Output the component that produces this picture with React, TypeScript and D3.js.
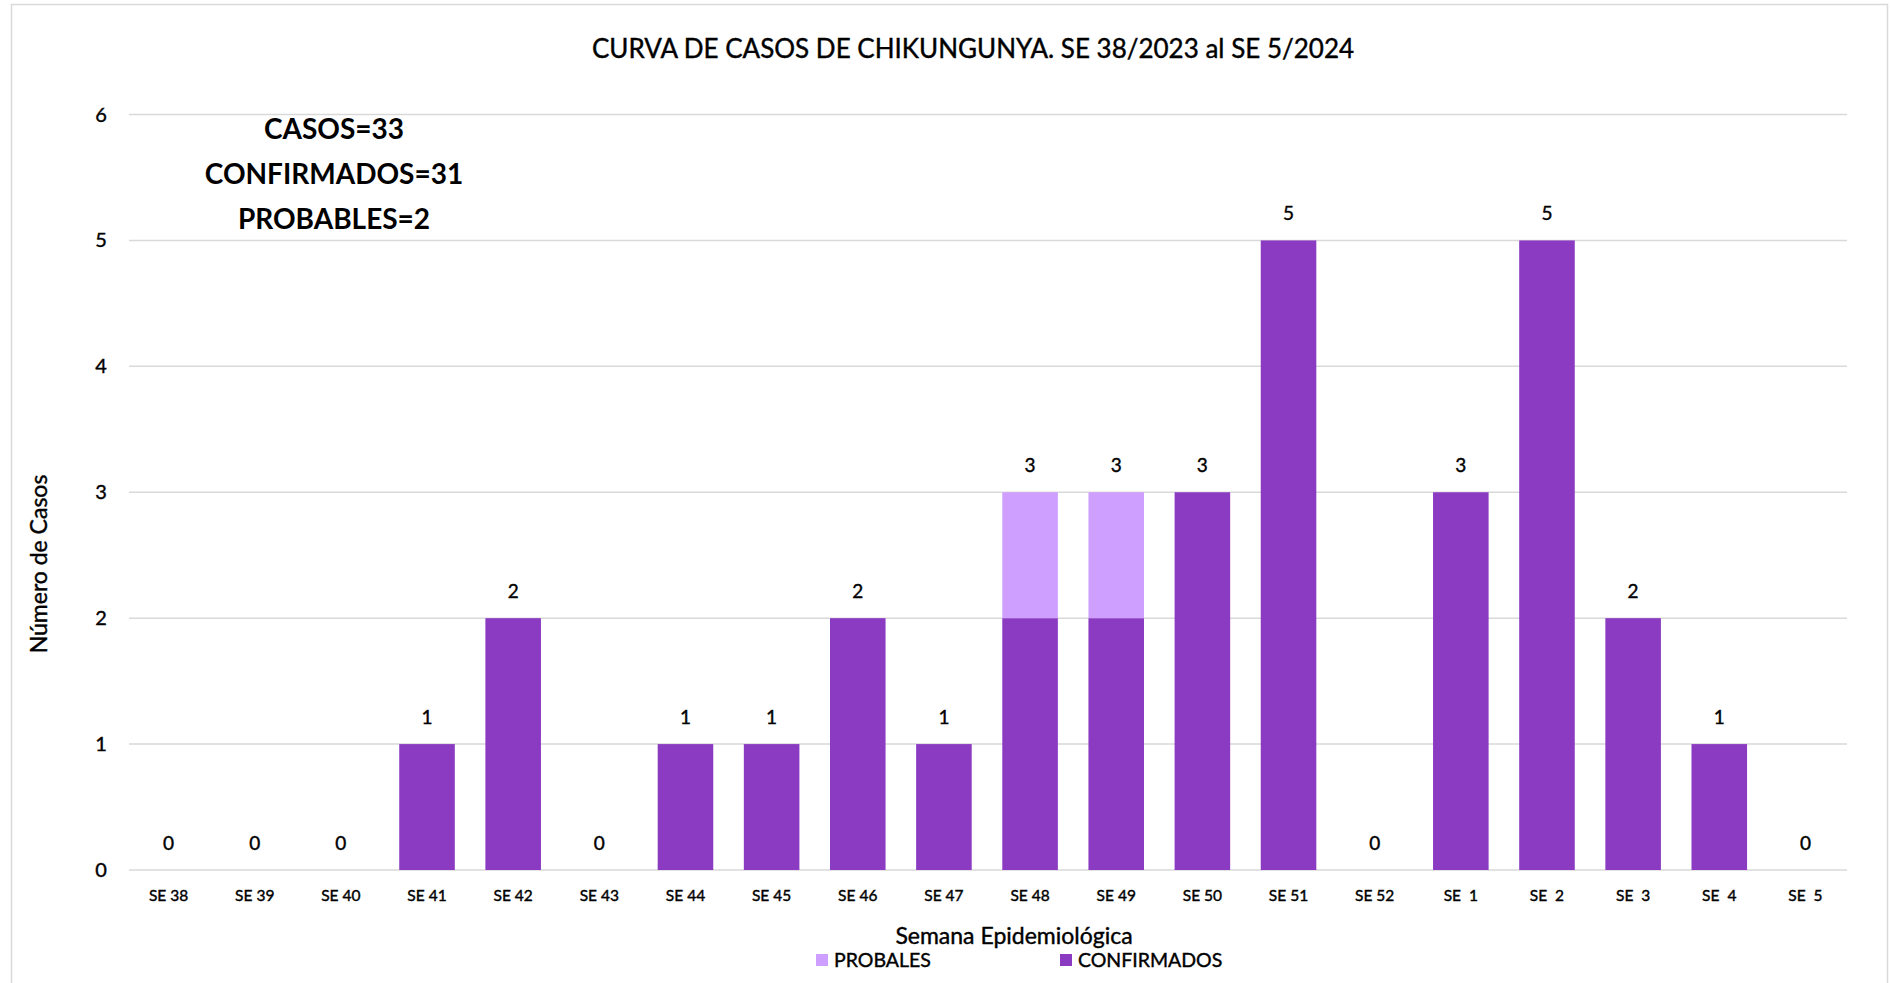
import React from "react"
import * as d3 from "d3"

const weeks = [
  "SE 38", "SE 39", "SE 40", "SE 41", "SE 42", "SE 43", "SE 44", "SE 45", "SE 46", "SE 47",
  "SE 48", "SE 49", "SE 50", "SE 51", "SE 52", "SE  1", "SE  2", "SE  3", "SE  4", "SE  5",
]
const confirmados = [0, 0, 0, 1, 2, 0, 1, 1, 2, 1, 2, 2, 3, 5, 0, 3, 5, 2, 1, 0]
const probables = [0, 0, 0, 0, 0, 0, 0, 0, 0, 0, 1, 1, 0, 0, 0, 0, 0, 0, 0, 0]
const yTicks = [0, 1, 2, 3, 4, 5, 6]
const summary = ["CASOS=33", "CONFIRMADOS=31", "PROBABLES=2"]

const W = 1890
const H = 983
const FONT = "Lato, 'Open Sans', sans-serif"
const C_CONF = "#8A3BC2"
const C_PROB = "#CF9FFF"
const GRID = "#d9d9d9"

// slight stroke to mimic the heavier Calibri rendering
const ink = { fill: "#000", stroke: "#000", strokeWidth: 0.4 }

const App = () => {
  const margin = { top: 114.5, right: 43, bottom: 113, left: 129 }
  const innerW = W - margin.left - margin.right
  const innerH = H - margin.top - margin.bottom

  const x = d3.scaleBand<string>().domain(weeks).range([-2, innerW]).paddingInner(0.355).paddingOuter(0.16)
  const y = d3.scaleLinear().domain([0, 6]).range([innerH, 0])

  const rows = weeks.map((w, i) => ({
    week: w,
    conf: confirmados[i],
    prob: probables[i],
    total: confirmados[i] + probables[i],
  }))

  return (
    <div style={{ position: "absolute", left: 0, top: 0 }}>
      <svg width={W} height={H} style={{ display: "block", background: "#fff" }}>
        <rect x={11.5} y={4.5} width={1876} height={H + 10} fill="#fff" stroke={GRID} strokeWidth={1.5} />
        <text x={973} y={58} textAnchor="middle" fontFamily={FONT} fontSize={26} {...ink}>
          CURVA DE CASOS DE CHIKUNGUNYA. SE 38/2023 al SE 5/2024
        </text>

        <g transform={`translate(${margin.left},${margin.top})`}>
          {yTicks.map((t) => (
            <g key={t}>
              <line x1={0} x2={innerW} y1={y(t)} y2={y(t)} stroke={GRID} strokeWidth={1.5} />
              <text x={-28} y={y(t) + 7} textAnchor="middle" fontFamily={FONT} fontSize={20} {...ink}>
                {t}
              </text>
            </g>
          ))}

          {rows.map((d) => (
            <g key={d.week} transform={`translate(${x(d.week)},0)`}>
              {d.conf > 0 && (
                <rect x={0} y={y(d.conf)} width={x.bandwidth()} height={y(0) - y(d.conf)} fill={C_CONF} />
              )}
              {d.prob > 0 && (
                <rect x={0} y={y(d.total)} width={x.bandwidth()} height={y(d.conf) - y(d.total)} fill={C_PROB} />
              )}
              <text
                x={x.bandwidth() / 2}
                y={y(d.total) - 20}
                textAnchor="middle"
                fontFamily={FONT}
                fontSize={19}
                {...ink}
              >
                {d.total}
              </text>
              <text
                x={x.bandwidth() / 2}
                y={y(0) + 31}
                textAnchor="middle"
                fontFamily={FONT}
                fontSize={15.5}
                {...ink}
                style={{ whiteSpace: "pre" }}
              >
                {d.week}
              </text>
            </g>
          ))}

          {summary.map((s, i) => (
            <text
              key={s}
              x={205}
              y={24 + i * 45}
              textAnchor="middle"
              fontFamily={FONT}
              fontWeight="bold"
              fontSize={28}
              fill="#000"
            >
              {s}
            </text>
          ))}
        </g>

        <text
          transform={`translate(47,564) rotate(-90)`}
          textAnchor="middle"
          fontFamily={FONT}
          fontSize={23}
          {...ink}
        >
          Número de Casos
        </text>

        <text x={1014} y={944} textAnchor="middle" fontFamily={FONT} fontSize={23} {...ink}>
          Semana Epidemiológica
        </text>

        <g fontFamily={FONT} fontSize={19.5}>
          <rect x={816} y={954} width={12} height={12} fill={C_PROB} />
          <text x={834} y={967} {...ink}>PROBALES</text>
          <rect x={1060} y={954} width={12} height={12} fill={C_CONF} />
          <text x={1078} y={967} {...ink}>CONFIRMADOS</text>
        </g>
      </svg>
    </div>
  )
}

export default App
